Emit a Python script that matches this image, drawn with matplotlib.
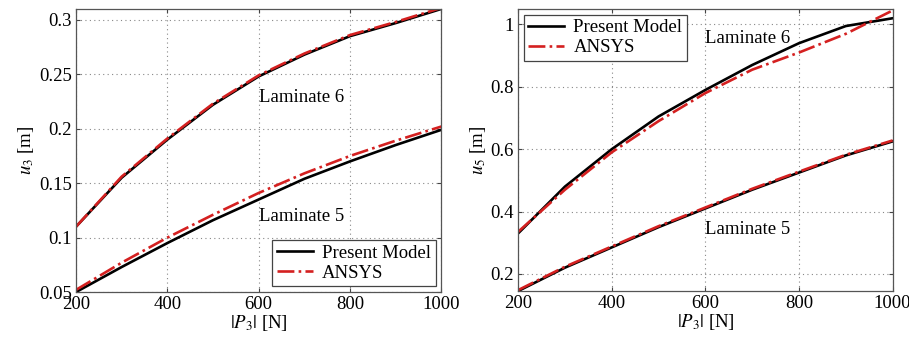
import matplotlib
matplotlib.use("Agg")
import matplotlib.pyplot as plt

plt.rcParams['font.family'] = ['Liberation Serif', 'DejaVu Serif']
plt.rcParams['mathtext.fontset'] = 'stix'

load = [200, 300, 400, 500, 600, 700, 800, 900, 1000]

# Left: u3
u3_lam6_model = [0.110, 0.155, 0.190, 0.222, 0.248, 0.268, 0.285, 0.297, 0.310]
u3_lam6_ansys = [0.110, 0.156, 0.191, 0.223, 0.249, 0.269, 0.286, 0.298, 0.311]
u3_lam5_model = [0.050, 0.073, 0.095, 0.116, 0.135, 0.154, 0.170, 0.185, 0.199]
u3_lam5_ansys = [0.052, 0.077, 0.100, 0.121, 0.141, 0.159, 0.175, 0.189, 0.202]

# Right: u5
u5_lam6_model = [0.330, 0.480, 0.600, 0.705, 0.790, 0.870, 0.940, 0.995, 1.020]
u5_lam6_ansys = [0.335, 0.470, 0.590, 0.690, 0.780, 0.855, 0.910, 0.970, 1.045]
u5_lam5_model = [0.145, 0.220, 0.285, 0.350, 0.410, 0.470, 0.525, 0.580, 0.625]
u5_lam5_ansys = [0.148, 0.223, 0.288, 0.353, 0.413, 0.473, 0.528, 0.582, 0.628]

red = '#d42020'
fs = 13.5

fig = plt.figure(figsize=(9.09, 3.42), dpi=100)
ax1 = fig.add_axes([0.0836, 0.146, 0.402, 0.828])
ax2 = fig.add_axes([0.570, 0.149, 0.412, 0.825])

def style(ax):
    ax.set_xlim(200, 1000)
    ax.set_xticks([200, 400, 600, 800, 1000])
    ax.grid(True, linestyle=(0, (1, 3)), color='#888888', linewidth=0.8)
    ax.tick_params(direction='in', labelsize=fs, length=3, top=True, right=True,
                   color='#444444', pad=3)
    for s in ax.spines.values():
        s.set_linewidth(0.9)
        s.set_color('#555555')
    ax.set_xlabel(r'$|P_\mathit{3}|$ [N]', fontsize=fs, labelpad=0)

def add_legend(ax, loc):
    leg = ax.legend(loc=loc, fontsize=fs, fancybox=False, framealpha=1,
                    edgecolor='#444444', borderaxespad=0.3, handlelength=1.9,
                    handletextpad=0.5, borderpad=0.25, labelspacing=0.15)
    leg.get_frame().set_linewidth(0.9)

# Left
ax1.plot(load, u3_lam6_model, color='black', lw=1.9, label='Present Model')
ax1.plot(load, u3_lam6_ansys, color=red, lw=1.9, ls='-.', label='ANSYS')
ax1.plot(load, u3_lam5_model, color='black', lw=1.9)
ax1.plot(load, u3_lam5_ansys, color=red, lw=1.9, ls='-.')
style(ax1)
ax1.set_ylim(0.05, 0.31)
ax1.set_yticks([0.05, 0.1, 0.15, 0.2, 0.25, 0.3])
ax1.set_yticklabels(['0.05', '0.1', '0.15', '0.2', '0.25', '0.3'])
ax1.set_ylabel(r'$u_\mathit{3}$ [m]', fontsize=fs, labelpad=2)
ax1.text(600, 0.2285, 'Laminate 6', fontsize=fs, va='center')
ax1.text(600, 0.119, 'Laminate 5', fontsize=fs, va='center')
add_legend(ax1, 'lower right')

# Right
ax2.plot(load, u5_lam6_model, color='black', lw=1.9, label='Present Model')
ax2.plot(load, u5_lam6_ansys, color=red, lw=1.9, ls='-.', label='ANSYS')
ax2.plot(load, u5_lam5_model, color='black', lw=1.9)
ax2.plot(load, u5_lam5_ansys, color=red, lw=1.9, ls='-.')
style(ax2)
ax2.set_ylim(0.145, 1.05)
ax2.set_yticks([0.2, 0.4, 0.6, 0.8, 1.0])
ax2.set_yticklabels(['0.2', '0.4', '0.6', '0.8', '1'])
ax2.set_ylabel(r'$u_\mathit{5}$ [m]', fontsize=fs, labelpad=2)
ax2.text(600, 0.955, 'Laminate 6', fontsize=fs, va='center')
ax2.text(600, 0.344, 'Laminate 5', fontsize=fs, va='center')
add_legend(ax2, 'upper left')

fig.savefig('out.png', dpi=100)
